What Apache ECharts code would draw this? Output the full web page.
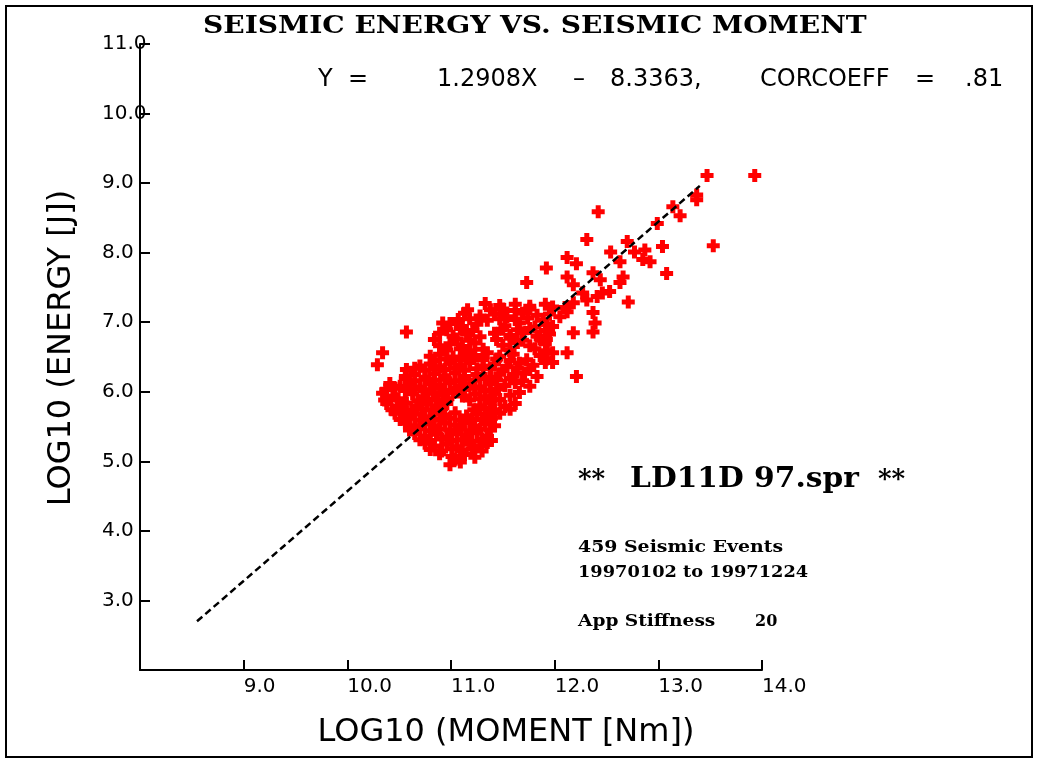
<!DOCTYPE html>
<html><head><meta charset="utf-8">
<script src="https://cdn.jsdelivr.net/npm/echarts@6/dist/echarts.min.js"></script>
<style>html,body{margin:0;padding:0;background:#fff}#c{width:1047px;height:763px}</style>
</head><body><div id="c"></div>
<script>
// axis ranges (log10 units)
const xRange = [8, 14];
const yRange = [2, 11];
// regression line end points: Y = 1.2908X - 8.3363
const fitLine = [[8.55, 2.70], [13.40, 8.96]];
// events: [log10 moment, log10 energy]
const events = [
[10.99,4.95],[11.09,4.99],[11.04,5.03],
[10.89,5.11],[11.01,5.07],[11.13,5.10],[11.23,5.06],
[10.80,5.17],[10.91,5.15],[11.01,5.18],[11.11,5.16],[11.20,5.18],[11.30,5.15],
[10.75,5.26],[10.84,5.22],[10.96,5.25],[11.06,5.21],[11.18,5.25],[11.28,5.22],[11.35,5.27],
[10.70,5.31],[10.80,5.30],[10.91,5.32],[11.01,5.30],[11.11,5.31],[11.20,5.29],[11.30,5.32],[11.39,5.30],
[10.65,5.40],[10.75,5.36],[10.86,5.39],[10.96,5.35],[11.06,5.40],[11.15,5.37],[11.25,5.41],[11.35,5.36],
[10.60,5.45],[10.70,5.47],[10.80,5.44],[10.89,5.46],[10.99,5.45],[11.09,5.47],[11.18,5.44],[11.28,5.46],[11.38,5.45],
[10.56,5.55],[10.65,5.51],[10.75,5.54],[10.84,5.50],[10.94,5.55],[11.04,5.52],[11.13,5.56],[11.23,5.50],[11.33,5.54],[11.42,5.51],
[10.51,5.60],[10.60,5.62],[10.70,5.59],[10.80,5.61],[10.89,5.60],[10.99,5.62],[11.09,5.59],[11.20,5.61],[11.30,5.60],[11.39,5.62],
[10.46,5.69],[10.56,5.65],[10.65,5.68],[10.75,5.64],[10.84,5.69],[10.94,5.66],[11.04,5.70],[11.15,5.65],[11.25,5.68],[11.35,5.64],[11.47,5.69],
[10.43,5.74],[10.53,5.76],[10.62,5.73],[10.72,5.75],[10.82,5.74],[10.91,5.76],[11.22,5.74],[11.33,5.76],[11.42,5.73],[11.57,5.75],
[10.38,5.83],[10.48,5.79],[10.57,5.84],[10.67,5.80],[10.77,5.82],[10.86,5.78],[10.96,5.83],[11.28,5.80],[11.38,5.84],[11.52,5.79],[11.62,5.83],
[10.36,5.88],[10.49,5.90],[10.68,5.87],[10.78,5.89],[10.87,5.88],[10.97,5.90],[11.18,5.88],[11.28,5.90],[11.38,5.87],[11.47,5.89],
[10.34,5.98],[10.44,5.94],[10.63,5.97],[10.73,5.93],[10.83,5.98],[10.92,5.95],[11.02,5.99],[11.11,5.94],[11.23,5.97],[11.33,5.93],[11.42,5.98],[11.57,5.95],[11.66,5.99],
[10.37,6.03],[10.46,6.05],[10.56,6.02],[10.65,6.04],[10.75,6.03],[10.84,6.05],[10.94,6.02],[11.04,6.04],[11.13,6.03],[11.23,6.05],[11.33,6.02],[11.44,6.04],
[10.41,6.12],[10.51,6.08],[10.60,6.11],[10.70,6.07],[10.80,6.12],[10.89,6.09],[10.99,6.13],[11.09,6.08],[11.18,6.11],[11.28,6.07],[11.38,6.12],[11.52,6.09],[11.62,6.13],[11.76,6.08],
[10.56,6.19],[10.65,6.16],[10.75,6.18],[10.84,6.17],[10.94,6.19],[11.04,6.16],[11.13,6.18],[11.23,6.17],[11.33,6.19],[11.44,6.17],[11.57,6.19],[11.69,6.16],
[10.56,6.22],[10.65,6.25],[10.75,6.21],[10.84,6.26],[10.94,6.23],[11.04,6.27],[11.13,6.22],[11.25,6.25],[11.38,6.21],[11.47,6.26],[11.60,6.23],[11.71,6.27],[11.83,6.22],
[10.65,6.34],[10.75,6.31],[10.84,6.33],[10.94,6.32],[11.04,6.34],[11.13,6.31],[11.25,6.33],[11.38,6.33],[11.50,6.31],[11.64,6.34],[11.76,6.32],
[10.70,6.37],[10.80,6.40],[10.89,6.36],[10.99,6.41],[11.09,6.38],[11.18,6.42],[11.31,6.37],[11.42,6.40],[11.54,6.36],[11.66,6.41],[11.79,6.38],[11.91,6.42],
[10.84,6.45],[10.96,6.47],[11.09,6.46],[11.18,6.48],[11.31,6.46],[11.44,6.47],[11.57,6.45],[11.73,6.46],[11.92,6.47],
[10.80,6.51],[10.89,6.54],[11.02,6.50],[11.13,6.55],[11.23,6.52],[11.35,6.56],[11.47,6.51],[11.60,6.54],[11.86,6.52],[11.98,6.56],
[10.96,6.60],[11.09,6.62],[11.18,6.59],[11.31,6.61],[11.57,6.60],[11.81,6.62],[11.93,6.59],
[10.89,6.66],[10.99,6.69],[11.11,6.65],[11.23,6.70],[11.50,6.67],[11.64,6.71],[11.76,6.66],[11.91,6.69],
[10.84,6.75],[11.06,6.76],[11.18,6.74],[11.44,6.75],[11.57,6.77],[11.69,6.74],[11.86,6.76],
[10.89,6.84],[11.02,6.80],[11.15,6.83],[11.28,6.79],[11.42,6.84],[11.57,6.81],[11.69,6.85],[11.83,6.80],[11.95,6.83],
[10.96,6.89],[11.09,6.91],[11.21,6.88],[11.50,6.90],[11.64,6.89],[11.76,6.91],[11.91,6.88],
[10.99,6.98],[11.11,6.94],[11.25,6.97],[11.52,6.95],[11.66,6.99],[11.81,6.93],[11.92,6.97],
[11.07,7.04],[11.18,7.05],[11.35,7.03],[11.47,7.05],[11.62,7.04],[11.74,7.06],[11.89,7.03],
[11.13,7.13],[11.28,7.09],[11.42,7.12],[11.54,7.08],[11.69,7.13],[11.83,7.10],[11.95,7.12],
[11.38,7.18],[11.50,7.19],[11.62,7.17],[11.76,7.19],
[11.33,7.27],[11.47,7.24],[11.62,7.26],[11.76,7.23],[11.91,7.26],
[10.34,6.56],[10.29,6.39],[10.57,6.32],[10.57,6.86],[10.92,6.99],[11.16,7.18],
[11.73,7.57],[11.92,7.78],[12.12,7.93],[12.21,7.84],[12.31,8.19],[12.42,8.59],
[12.12,7.65],[12.18,7.54],[12.37,7.71],[12.44,7.61],[12.27,7.42],[12.31,7.32],
[12.41,7.37],[12.46,7.42],[12.53,7.44],[11.98,7.22],[12.10,7.21],[12.18,7.28],
[12.05,7.08],[12.12,7.15],[12.37,7.14],[12.39,6.99],[12.37,6.86],[12.18,6.85],
[12.12,6.56],[12.21,6.22],[11.98,6.94],[11.92,6.75],[11.98,6.42],
[12.54,8.01],[12.70,8.16],[12.77,8.01],[12.87,8.04],[12.92,7.87],[12.85,7.90],
[12.63,7.87],[12.66,7.65],[12.63,7.57],[12.71,7.29],[13.04,8.09],[13.08,7.70],
[12.99,8.42],[13.14,8.66],[13.21,8.53],[13.37,8.76],[13.37,8.83],
[13.47,9.11],[13.93,9.11],[13.53,8.10]
];

const titleText = 'SEISMIC ENERGY VS. SEISMIC MOMENT';
const xName = 'LOG10 (MOMENT [Nm])';
const yName = 'LOG10 (ENERGY [J])';

const chart = echarts.init(document.getElementById('c'), null, {renderer: 'canvas'});
const plus = 'path://M4,0H9V4H13V9H9V13H4V9H0V4H4Z';
function label(x, y, text, size, family, opts) {
  opts = opts || {};
  const el = {type: 'text', x: x, y: y, z: 10,
    style: {text: text, fontSize: size, fontFamily: family, fill: '#000',
      fontWeight: opts.weight || 'normal', align: opts.align || 'left', verticalAlign: 'middle'}};
  if (opts.scaleX) el.scaleX = opts.scaleX;
  if (opts.rotation) el.rotation = opts.rotation;
  return el;
}

const graphics = [
  {type: 'rect', shape: {x: 6, y: 6, width: 1026, height: 751}, style: {fill: 'none', stroke: '#000', lineWidth: 2}, z: 1},
  label(203, 27, titleText, 24, 'DejaVu Serif', {weight: 'bold', scaleX: 1.17}),
  label(318, 80, 'Y  =', 24, 'DejaVu Sans'),
  label(437, 80, '1.2908X', 24, 'DejaVu Sans'),
  label(573, 80, '\u2013', 24, 'DejaVu Sans'),
  label(610, 80, '8.3363,', 24, 'DejaVu Sans'),
  label(760, 80, 'CORCOEFF', 24, 'DejaVu Sans'),
  label(915, 80, '=', 24, 'DejaVu Sans'),
  label(965, 80, '.81', 24, 'DejaVu Sans'),
  label(506, 733, xName, 32, 'DejaVu Sans', {align: 'center'}),
  label(62, 348, yName, 32, 'DejaVu Sans', {align: 'center', rotation: Math.PI / 2}),
  label(578, 480, '**', 26, 'DejaVu Serif', {weight: 'bold'}),
  label(630, 480, 'LD11D 97.spr', 27, 'DejaVu Serif', {weight: 'bold', scaleX: 1.1}),
  label(878, 480, '**', 26, 'DejaVu Serif', {weight: 'bold'}),
  label(578, 548, '459 Seismic Events', 16, 'DejaVu Serif', {weight: 'bold', scaleX: 1.18}),
  label(578, 573, '19970102 to 19971224', 16, 'DejaVu Serif', {weight: 'bold', scaleX: 1.11}),
  label(578, 622, 'App Stiffness', 16, 'DejaVu Serif', {weight: 'bold', scaleX: 1.16}),
  label(755, 622, '20', 16, 'DejaVu Serif', {weight: 'bold'})
];

const axisCommon = {
  type: 'value', interval: 1, splitLine: {show: false},
  axisLine: {show: true, onZero: false, lineStyle: {color: '#000', width: 2}},
  axisTick: {show: true, inside: true, length: 10, lineStyle: {color: '#000', width: 2}}
};

chart.setOption({
  animation: false,
  backgroundColor: '#fff',
  grid: {left: 140, right: 285, top: 44, bottom: 93, containLabel: false},
  xAxis: Object.assign({}, axisCommon, {
    min: xRange[0], max: xRange[1],
    axisLabel: {showMinLabel: false, formatter: v => v.toFixed(1), align: 'left', margin: 7, color: '#000', fontSize: 20, fontFamily: 'DejaVu Sans'}
  }),
  yAxis: Object.assign({}, axisCommon, {
    min: yRange[0], max: yRange[1],
    axisLabel: {showMinLabel: false, formatter: v => v.toFixed(1), align: 'left', verticalAlign: 'middle', padding: [0, 0, 5, 0], margin: 38, color: '#000', fontSize: 20, fontFamily: 'DejaVu Sans'}
  }),
  series: [
    {type: 'scatter', data: events, symbol: plus, symbolSize: 13, itemStyle: {color: '#ff0000', opacity: 1}, z: 2},
    {type: 'line', data: fitLine, showSymbol: false, symbol: 'none', z: 3,
     lineStyle: {color: '#000', width: 2.5, type: [7, 4]}}
  ],
  graphic: graphics
});
</script></body></html>
